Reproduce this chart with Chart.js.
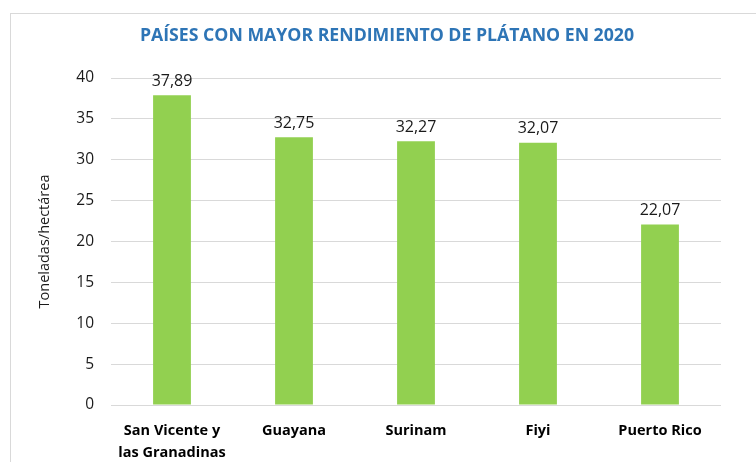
<!DOCTYPE html>
<html><head><meta charset="utf-8">
<script src="https://cdn.jsdelivr.net/npm/chart.js@4"></script>
<style>html,body{margin:0;padding:0;background:#fff;overflow:hidden}#wrap{width:756px;height:462px;position:relative}</style>
</head><body><div id="wrap"><canvas id="c" width="756" height="462"></canvas></div>
<script>
const chartTitle = "PAÍSES CON MAYOR RENDIMIENTO DE PLÁTANO EN 2020";
const categories = [["San Vicente y", "las Granadinas"], "Guayana", "Surinam", "Fiyi", "Puerto Rico"];
const values = [37.89, 32.75, 32.27, 32.07, 22.07];
const yTicks = [0, 5, 10, 15, 20, 25, 30, 35, 40];
const yAxisTitle = "Toneladas/hectárea";

const frame = {
  id: 'frame',
  beforeDraw(chart) {
    const ctx = chart.ctx;
    ctx.save();
    ctx.fillStyle = '#fff';
    ctx.fillRect(0, 0, chart.width, chart.height);
    ctx.strokeStyle = '#d9d9d9';
    ctx.lineWidth = 1;
    ctx.strokeRect(10.5, 13.5, 900, 600);
    ctx.restore();
  },
  afterDraw(chart) {
    const ctx = chart.ctx;
    ctx.save();
    ctx.fillStyle = '#2E75B6';
    ctx.font = 'bold 17.7px "Open Sans"';
    ctx.textAlign = 'center';
    ctx.textBaseline = 'middle';
    ctx.fillText(chartTitle, 387, 36);
    ctx.restore();
  }
};

const labelsPlugin = {
  id: 'valueLabels',
  afterDatasetsDraw(chart) {
    const ctx = chart.ctx;
    const meta = chart.getDatasetMeta(0);
    ctx.save();
    ctx.fillStyle = '#1a1a1a';
    ctx.font = '16px "Open Sans"';
    ctx.textAlign = 'center';
    ctx.textBaseline = 'middle';
    meta.data.forEach((bar, i) => {
      ctx.fillText(values[i].toFixed(2).replace('.', ','), bar.x, bar.y - 14);
    });
    ctx.restore();
  }
};

new Chart(document.getElementById('c'), {
  type: 'bar',
  data: {
    labels: categories,
    datasets: [{
      data: values,
      backgroundColor: '#92D050',
      borderWidth: 0,
      categoryPercentage: 1,
      barPercentage: 0.31
    }]
  },
  options: {
    responsive: false,
    animation: false,
    events: [],
    layout: { padding: { top: 78, right: 35, left: 0, bottom: 0 } },
    plugins: { legend: { display: false }, tooltip: { enabled: false }, title: { display: false } },
    scales: {
      x: {
        grid: { display: false, drawTicks: false },
        border: { display: false },
        ticks: { color: '#000', font: { family: 'Open Sans', size: 14.5, weight: 'bold', lineHeight: 1.5 }, padding: 15, maxRotation: 0, autoSkip: false },
        afterFit(s) { s.height = 57; }
      },
      y: {
        min: 0, max: 40,
        afterBuildTicks(s) { s.ticks = yTicks.map(v => ({ value: v })); },
        grid: { color: '#d9d9d9', lineWidth: 1, drawTicks: false },
        border: { display: false },
        ticks: { color: '#1a1a1a', font: { family: 'Open Sans', size: 15.5 }, padding: 17 },
        title: { display: true, text: yAxisTitle, color: '#1a1a1a', font: { family: 'Open Sans', size: 14.5 }, padding: { top: 36, bottom: 0 } },
        afterFit(s) { s.width = 111; }
      }
    }
  },
  plugins: [frame, labelsPlugin]
});
</script>
</body></html>
